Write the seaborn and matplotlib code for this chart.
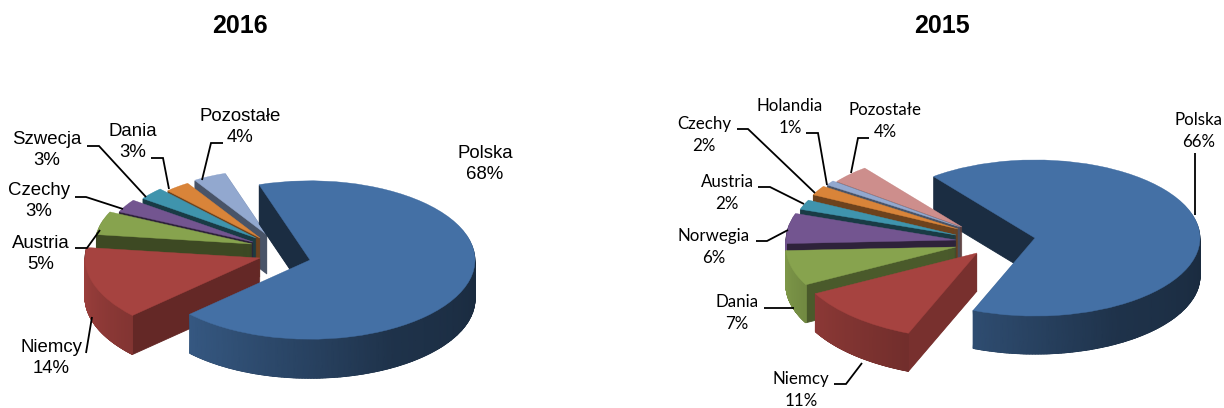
#!/usr/bin/env python3
"""Two exploded 3D-look pies: 2016 and 2015 shares."""
import matplotlib
matplotlib.use("Agg")
import matplotlib.pyplot as plt
import matplotlib.colors as mcolors
import numpy as np
import seaborn as sns

W, H = 1224, 408
UNIT = 165.0  # px per pie unit

# data
NAMES_2016 = ["Polska", "Niemcy", "Austria", "Czechy", "Szwecja", "Dania", "Pozostałe"]
VALUES_2016 = [68, 14, 5, 3, 3, 3, 4]
NAMES_2015 = ["Polska", "Niemcy", "Dania", "Norwegia", "Austria", "Czechy", "Holandia", "Pozostałe"]
VALUES_2015 = [66, 11, 7, 6, 2, 2, 1, 4]

COLORS_2016 = ["#4470a5", "#a64340", "#87a34e", "#735590", "#3f94ad", "#d98439", "#92a8cf"]
COLORS_2015 = ["#4470a5", "#a64340", "#87a34e", "#735590", "#3f94ad", "#d98439", "#92a8cf", "#cd8e8c"]
CUT_2016 = [0.4, 0.6, 0.45, 0.4, 0.4, 0.5, 0.5]
CUT_2015 = [0.4, 0.72, 0.55, 0.4, 0.4, 0.5, 0.5, 0.45]

# style: tip of each slice in px, its radius in px, painting order (back to front)
TIPS_2016 = [(310, 260), (260, 258), (252, 244), (253, 242), (256, 238), (260, 238), (267, 235)]
RADII_2016 = [165, 175, 157, 148, 140, 135, 135]
ORDER_2016 = [6, 5, 4, 3, 2, 1, 0]
TIPS_2015 = [(1035, 238), (977, 253), (956, 247), (956, 240), (956, 235), (958, 229), (960, 227), (962, 227)]
RADII_2015 = [165, 183, 170, 170, 165, 162, 160, 158]
ORDER_2015 = [0, 7, 6, 5, 4, 3, 2, 1]

LABELS_2016 = [(485, 164), (51, 358), (41, 254), (39, 201), (47, 150), (133, 142), (240, 127)]
LABELS_2015 = [(1199, 131), (801, 390), (737, 313), (714, 247), (727, 193), (704, 135), (790, 117), (885, 121)]

LEADERS_2016 = [
    [(223, 143), (211, 143), (202, 180)],
    [(151, 158), (163, 158), (169, 189)],
    [(87, 146), (99, 146), (146, 197)],
    [(75, 197), (86, 197), (123, 209)],
    [(75, 248), (87, 248), (100, 230)],
    [(86, 353), (92, 317)],
]
LEADERS_2015 = [
    [(1195, 153), (1195, 215)],
    [(869, 138), (858, 138), (851, 173)],
    [(806, 133), (818, 133), (827, 185)],
    [(737, 129), (748, 129), (815, 193)],
    [(758, 187), (770, 187), (804, 204)],
    [(756, 241), (767, 241), (788, 230)],
    [(764, 308), (794, 308)],
    [(834, 384), (846, 384), (862, 363)],
]


def shade(color, f):
    return tuple(c * f for c in mcolors.to_rgb(color))


def draw_pie(fig, values, colors, cuts, tips, radii, order, start, ratio, depth):
    ax = fig.add_axes([0, 0, 1, 1], facecolor="none")
    dy_unit = UNIT * ratio

    def to_data(p):
        return (p[0] / UNIT, (H - p[1]) / dy_unit)

    cut_colors = [shade(c, f) for c, f in zip(colors, cuts)]
    rank = {s: i for i, s in enumerate(order)}

    # stacked copies of the pie make the cut faces
    for step in range(depth, 0, -1):
        wedges = ax.pie(values, colors=cut_colors, startangle=start, counterclock=False)[0]
        for i, w in enumerate(wedges):
            x, y = to_data(tips[i])
            w.set_center((x, y - step / dy_unit))
            w.set_radius(radii[i] / UNIT)
            w.set_edgecolor(cut_colors[i])
            w.set_linewidth(0.6)
            w.set_zorder(rank[i] * 10 + (depth - step) * 0.01)

    top = ax.pie(values, colors=colors, startangle=start, counterclock=False)[0]
    for i, w in enumerate(top):
        x, y = to_data(tips[i])
        w.set_center((x, y))
        w.set_radius(radii[i] / UNIT)
        w.set_edgecolor(colors[i])
        w.set_linewidth(0.3)
        w.set_zorder(rank[i] * 10 + 6)

        # outer rim, lit from the left
        theta = np.linspace(w.theta1, w.theta2, 240)
        theta = theta[np.sin(np.radians(theta)) <= 0]
        if len(theta) < 2:
            continue
        r = w.r
        xs = x + r * np.cos(np.radians(theta))
        ys = y + r * np.sin(np.radians(theta))
        X = np.vstack([xs, xs])
        Y = np.vstack([ys, ys - depth / dy_unit])
        t = ((theta % 360) - 180) / 180
        C = np.vstack([t, t])
        cmap = sns.blend_palette([shade(colors[i], f) for f in (0.95, 0.72, 0.45, 0.38)], as_cmap=True)
        ax.pcolormesh(X, Y, C, shading="gouraud", cmap=cmap, vmin=0, vmax=1, zorder=rank[i] * 10 + 5)

    ax.set_aspect("auto")
    ax.set_xlim(0, W / UNIT)
    ax.set_ylim(0, H / dy_unit)
    ax.axis("off")


def draw_labels(ax, names, values, positions, leaders, size, family, spacing):
    for name, val, (x, y) in zip(names, values, positions):
        ax.text(x, y, f"{name}\n{val}%", ha="center", va="center", fontsize=size,
                family=family, color="black", linespacing=spacing)
    for line in leaders:
        xs, ys = zip(*line)
        ax.plot(xs, ys, color="black", lw=1.3, solid_capstyle="butt", solid_joinstyle="miter")


def main():
    sns.set_theme(style="white")
    fig = plt.figure(figsize=(W / 100, H / 100), dpi=100, facecolor="white")

    draw_pie(fig, VALUES_2016, COLORS_2016, CUT_2016, TIPS_2016, RADII_2016, ORDER_2016, 108, 0.48, 39)
    draw_pie(fig, VALUES_2015, COLORS_2015, CUT_2015, TIPS_2015, RADII_2015, ORDER_2015, 128, 0.473, 38)

    over = fig.add_axes([0, 0, 1, 1], facecolor="none")
    over.set_xlim(0, W)
    over.set_ylim(H, 0)
    over.axis("off")
    for x, year in [(240, "2016"), (942, "2015")]:
        over.text(x, 26, year, ha="center", va="center", fontsize=18, fontweight="bold",
                  family="Liberation Sans", color="black")
    draw_labels(over, NAMES_2016, VALUES_2016, LABELS_2016, LEADERS_2016, 13.4, "Liberation Sans", 1.3)
    draw_labels(over, NAMES_2015, VALUES_2015, LABELS_2015, LEADERS_2015, 12.2, "Lato", 1.4)

    fig.savefig("out.png", dpi=100)
    plt.close(fig)


if __name__ == "__main__":
    main()
